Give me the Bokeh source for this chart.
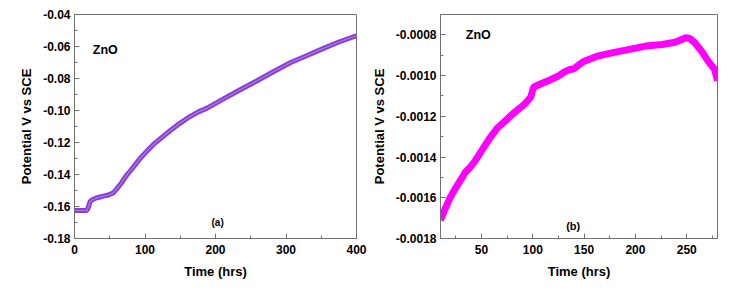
from bokeh.plotting import figure
from bokeh.layouts import row
from bokeh.models import Range1d, Label, PrintfTickFormatter, FixedTicker
from bokeh.embed import file_html
from bokeh.resources import INLINE

# ---- data panel (a) ----
time_a = [0, 5, 10, 15, 18, 20, 22, 25, 30, 35, 41, 48, 55, 60, 67, 73, 79, 86, 93,
          102, 112, 124, 136, 148, 160, 175, 188, 212, 235, 259, 282, 306, 330, 354,
          375, 396, 400]
pot_a = [-0.1625, -0.1625, -0.1625, -0.1625, -0.1623, -0.1600, -0.1570, -0.1558,
         -0.1548, -0.1542, -0.1535, -0.1528, -0.1515, -0.1490, -0.1450, -0.1410,
         -0.1378, -0.1340, -0.1300, -0.1257, -0.1212, -0.1168, -0.1125, -0.1085,
         -0.1048, -0.1010, -0.0985, -0.0926, -0.0870, -0.0814, -0.0758, -0.0702,
         -0.0656, -0.0610, -0.0572, -0.0539, -0.0533]
xticks_a = [0, 100, 200, 300, 400]
xminor_a = [50, 150, 250, 350]
yticks_a = [-0.18, -0.16, -0.14, -0.12, -0.10, -0.08, -0.06, -0.04]
yminor_a = [-0.17, -0.15, -0.13, -0.11, -0.09, -0.07, -0.05]

# ---- data panel (b) ----
time_b = [10, 14, 19.6, 25, 30, 34, 39, 43.6, 50, 58, 65, 72.4, 80, 86.8, 92, 98,
          100, 101, 108, 115.6, 125, 130, 136, 139.6, 149, 162, 178, 194, 210, 226,
          238.7, 249, 253, 258, 264.3, 270.7, 277, 280]
pot_b = [-0.00171, -0.00166, -0.001597, -0.00155, -0.00151, -0.001476, -0.00145,
         -0.00142, -0.00137, -0.001307, -0.00126, -0.001226, -0.00119, -0.001162,
         -0.00114, -0.001105, -0.00107, -0.001056, -0.00104, -0.001024, -0.001002,
         -0.000984, -0.00097, -0.000968, -0.000932, -0.000906, -0.000887, -0.000871,
         -0.000855, -0.000847, -0.000836, -0.000814, -0.000818, -0.000839, -0.000879,
         -0.000928, -0.000968, -0.001024]
xticks_b = [50, 100, 150, 200, 250]
xminor_b = [25, 75, 125, 175, 225, 275]
yticks_b = [-0.0018, -0.0016, -0.0014, -0.0012, -0.0010, -0.0008]
yminor_b = [-0.0017, -0.0015, -0.0013, -0.0011, -0.0009, -0.0007]

FONT = "Liberation Sans"
FRAME = "#707070"


def style(p, xfmt, yfmt, xt, xm, yt, ym):
    p.outline_line_color = FRAME
    p.outline_line_width = 1
    p.background_fill_color = "white"
    p.border_fill_color = "white"
    p.xgrid.visible = False
    p.ygrid.visible = False
    p.xaxis.ticker = FixedTicker(ticks=xt, minor_ticks=xm)
    p.yaxis.ticker = FixedTicker(ticks=yt, minor_ticks=ym)
    p.yaxis.formatter = PrintfTickFormatter(format=yfmt)
    p.xaxis.formatter = PrintfTickFormatter(format=xfmt)
    for ax in (p.xaxis[0], p.yaxis[0]):
        ax.axis_line_color = FRAME
        ax.major_tick_line_color = FRAME
        ax.minor_tick_line_color = FRAME
        ax.major_tick_in = 5
        ax.major_tick_out = 0
        ax.minor_tick_in = 3
        ax.minor_tick_out = 0
        ax.major_label_text_font = FONT
        ax.major_label_text_font_style = "bold"
        ax.major_label_text_font_size = "12px"
        ax.major_label_text_color = "black"
        ax.axis_label_text_font = FONT
        ax.axis_label_text_font_style = "bold"
        ax.axis_label_text_font_size = "13px"
        ax.axis_label_text_color = "black"
    p.xaxis.major_label_standoff = 6
    p.yaxis.major_label_standoff = 4
    p.xaxis.axis_label_standoff = 7
    p.yaxis.axis_label_standoff = 6
    p.xaxis.axis_label = "Time (hrs)"
    p.yaxis.axis_label = "Potential V vs SCE"


pa = figure(width=368, height=281, output_backend="svg", toolbar_location=None,
            x_range=Range1d(0, 400), y_range=Range1d(-0.18, -0.04),
            min_border_left=74, min_border_right=12, min_border_top=14,
            min_border_bottom=38)
style(pa, "%d", "%.2f", xticks_a, xminor_a, yticks_a, yminor_a)
pa.line(time_a, pot_a, line_color="#8a3ed8", line_width=5)
pa.line(time_a, pot_a, line_color="#b58be8", line_width=1.2, line_alpha=0.8)
pa.add_layout(Label(x=26, y=-0.0663, text="ZnO", text_font=FONT, text_color="black",
                    text_font_style="bold", text_font_size="12.5px"))
pa.add_layout(Label(x=203, y=-0.1734, text="(a)", text_font=FONT, text_color="black",
                    text_font_style="bold", text_font_size="10px", text_align="center"))

pb = figure(width=354, height=281, output_backend="svg", toolbar_location=None,
            x_range=Range1d(10, 280), y_range=Range1d(-0.0018, -0.0007),
            min_border_left=67, min_border_right=5, min_border_top=14,
            min_border_bottom=38)
style(pb, "%d", "%.4f", xticks_b, xminor_b, yticks_b, yminor_b)
pb.line(time_b, pot_b, line_color="#ff00ff", line_width=7)
pb.add_layout(Label(x=34.7, y=-0.000836, text="ZnO", text_font=FONT, text_color="black",
                    text_font_style="bold", text_font_size="12.5px"))
pb.add_layout(Label(x=139.3, y=-0.00177, text="(b)", text_font=FONT, text_color="black",
                    text_font_style="bold", text_font_size="11px", text_align="center"))

layout = row(pa, pb)
open("out.html", "w").write(file_html(layout, INLINE))
